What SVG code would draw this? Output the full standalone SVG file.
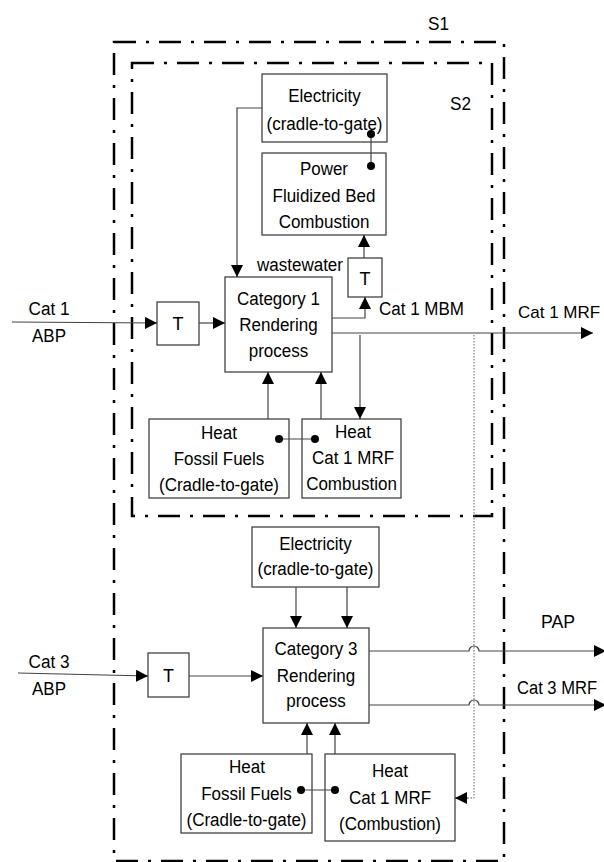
<svg xmlns="http://www.w3.org/2000/svg" width="604" height="862" viewBox="0 0 604 862">
<defs>
<marker id="arr" markerUnits="userSpaceOnUse" markerWidth="12" markerHeight="12" viewBox="0 0 12 12" refX="12" refY="6" orient="auto"><path d="M0,0 L12,6 L0,12 z" fill="#000"/></marker>
<style>
.box{fill:#fff;stroke:#333;stroke-width:1.2}
.t{font-family:"Liberation Sans",Arial,sans-serif;font-size:18px;fill:#000;text-anchor:middle}
.l{font-family:"Liberation Sans",Arial,sans-serif;font-size:18px;fill:#000}
.c{fill:none;stroke:#444;stroke-width:1.2}
.ar{marker-end:url(#arr)}
.bd{fill:none;stroke:#000;stroke-width:2.5;stroke-dasharray:22 10 3 10}
.dot{fill:#000}
.dotted{fill:none;stroke:#666;stroke-width:1;stroke-dasharray:1.5 1.5}
</style>
</defs>
<rect width="604" height="862" fill="#fff"/>

<g id="boundaries">
<rect class="bd" x="114" y="42" width="390" height="819"/>
<rect class="bd" x="132" y="63" width="360" height="453"/>
<text class="l" x="428" y="30" textLength="21" lengthAdjust="spacingAndGlyphs">S1</text>
<text class="l" x="450" y="110" textLength="21" lengthAdjust="spacingAndGlyphs">S2</text>
</g>

<g id="elec1">
<rect class="box" x="262" y="74" width="125" height="68"/>
<text class="t" x="324.5" y="102" textLength="72.7" lengthAdjust="spacingAndGlyphs">Electricity</text>
<text class="t" x="324.5" y="130" textLength="116" lengthAdjust="spacingAndGlyphs">(cradle-to-gate)</text>
</g>

<g id="power">
<rect class="box" x="262" y="153" width="124" height="82"/>
<text class="t" x="324" y="175" textLength="48" lengthAdjust="spacingAndGlyphs">Power</text>
<text class="t" x="324" y="202" textLength="103" lengthAdjust="spacingAndGlyphs">Fluidized Bed</text>
<text class="t" x="324" y="228" textLength="90.7" lengthAdjust="spacingAndGlyphs">Combustion</text>
</g>

<g id="t-waste">
<rect class="box" x="348" y="258" width="34" height="39"/>
<text class="t" x="365" y="285">T</text>
</g>

<g id="t1">
<rect class="box" x="157" y="302" width="42" height="43"/>
<text class="t" x="178" y="330">T</text>
</g>

<g id="cat1">
<rect class="box" x="225" y="277" width="107" height="95"/>
<text class="t" x="278.5" y="305" textLength="83" lengthAdjust="spacingAndGlyphs">Category 1</text>
<text class="t" x="278.5" y="331" textLength="78.4" lengthAdjust="spacingAndGlyphs">Rendering</text>
<text class="t" x="278.5" y="357" textLength="59.5" lengthAdjust="spacingAndGlyphs">process</text>
</g>

<g id="fossil1">
<rect class="box" x="149" y="419" width="140" height="79"/>
<text class="t" x="219" y="439" textLength="36" lengthAdjust="spacingAndGlyphs">Heat</text>
<text class="t" x="219" y="465" textLength="90.7" lengthAdjust="spacingAndGlyphs">Fossil Fuels</text>
<text class="t" x="219" y="491" textLength="120" lengthAdjust="spacingAndGlyphs">(Cradle-to-gate)</text>
</g>

<g id="mrf1">
<rect class="box" x="302" y="419" width="99" height="79"/>
<text class="t" x="353" y="438" textLength="36" lengthAdjust="spacingAndGlyphs">Heat</text>
<text class="t" x="353" y="464" textLength="82" lengthAdjust="spacingAndGlyphs">Cat 1 MRF</text>
<text class="t" x="351.5" y="490" textLength="90.7" lengthAdjust="spacingAndGlyphs">Combustion</text>
</g>

<g id="elec2">
<rect class="box" x="252" y="527" width="127" height="60"/>
<text class="t" x="315.5" y="550" textLength="72.7" lengthAdjust="spacingAndGlyphs">Electricity</text>
<text class="t" x="315.5" y="575" textLength="116" lengthAdjust="spacingAndGlyphs">(cradle-to-gate)</text>
</g>

<g id="t3">
<rect class="box" x="148" y="653" width="41" height="44"/>
<text class="t" x="168.5" y="682">T</text>
</g>

<g id="cat3">
<rect class="box" x="263" y="628" width="106" height="95"/>
<text class="t" x="316" y="655" textLength="83" lengthAdjust="spacingAndGlyphs">Category 3</text>
<text class="t" x="316" y="682" textLength="78.4" lengthAdjust="spacingAndGlyphs">Rendering</text>
<text class="t" x="316" y="707" textLength="59.5" lengthAdjust="spacingAndGlyphs">process</text>
</g>

<g id="fossil2">
<rect class="box" x="181" y="754" width="131" height="79"/>
<text class="t" x="247" y="773" textLength="36" lengthAdjust="spacingAndGlyphs">Heat</text>
<text class="t" x="246.5" y="800" textLength="90.7" lengthAdjust="spacingAndGlyphs">Fossil Fuels</text>
<text class="t" x="246.5" y="826" textLength="120" lengthAdjust="spacingAndGlyphs">(Cradle-to-gate)</text>
</g>

<g id="mrf2">
<rect class="box" x="325" y="754" width="130" height="87"/>
<text class="t" x="390" y="777" textLength="36" lengthAdjust="spacingAndGlyphs">Heat</text>
<text class="t" x="390" y="804" textLength="82" lengthAdjust="spacingAndGlyphs">Cat 1 MRF</text>
<text class="t" x="390" y="830" textLength="102" lengthAdjust="spacingAndGlyphs">(Combustion)</text>
</g>

<g id="connectors">
<path class="c ar" d="M262,108 H237 V277"/>
<path class="c ar" d="M364,258 V235"/>
<path class="c ar" d="M332,318 H365 V297"/>
<path class="c ar" d="M332,333 H593"/>
<path class="c ar" d="M360,335 V419"/>
<path class="c ar" d="M12,322 L157,323"/>
<path class="c ar" d="M199,323 H225"/>
<path class="c ar" d="M268,419 V372"/>
<path class="c ar" d="M321,419 V372"/>
<path class="c" d="M279,439 H315"/>
<circle class="dot" cx="279" cy="439" r="4"/>
<circle class="dot" cx="315" cy="439" r="4"/>
<path class="c" d="M371,134 V166"/>
<circle class="dot" cx="371" cy="134" r="4"/>
<circle class="dot" cx="371" cy="166" r="4"/>
<path class="dotted" d="M474,335 V798 H468"/>
<path class="c ar" d="M468,798 H455" stroke-width="0.6"/>
<path class="c ar" d="M296,587 V628"/>
<path class="c ar" d="M347,587 V628"/>
<path class="c ar" d="M18,673 L148,676"/>
<path class="c ar" d="M189,676 H263"/>
<path class="c ar" d="M369,651 H469 A5,5 0 0 1 479,651 H606"/>
<path class="c ar" d="M369,705 H469 A5,5 0 0 1 479,705 H606"/>
<path class="c ar" d="M307,754 V723"/>
<path class="c ar" d="M335,754 V723"/>
<path class="c" d="M301,790 H335"/>
<circle class="dot" cx="301" cy="790" r="4"/>
<circle class="dot" cx="335" cy="790" r="4"/>
<text class="l" x="257" y="271" textLength="86" lengthAdjust="spacingAndGlyphs">wastewater</text>
<text class="l" x="379" y="315" textLength="85" lengthAdjust="spacingAndGlyphs">Cat 1 MBM</text>
<text class="l" x="518" y="318" style="font-size:17px">Cat 1 MRF</text>
<text class="l" x="541" y="628" textLength="34" lengthAdjust="spacingAndGlyphs">PAP</text>
<text class="l" x="517" y="694" textLength="80" lengthAdjust="spacingAndGlyphs">Cat 3 MRF</text>
<text class="t" x="49" y="315" textLength="41" lengthAdjust="spacingAndGlyphs">Cat 1</text>
<text class="t" x="49" y="342" textLength="34" lengthAdjust="spacingAndGlyphs">ABP</text>
<text class="t" x="49" y="668" textLength="41" lengthAdjust="spacingAndGlyphs">Cat 3</text>
<text class="t" x="49" y="695" textLength="34" lengthAdjust="spacingAndGlyphs">ABP</text>
</g>
</svg>
